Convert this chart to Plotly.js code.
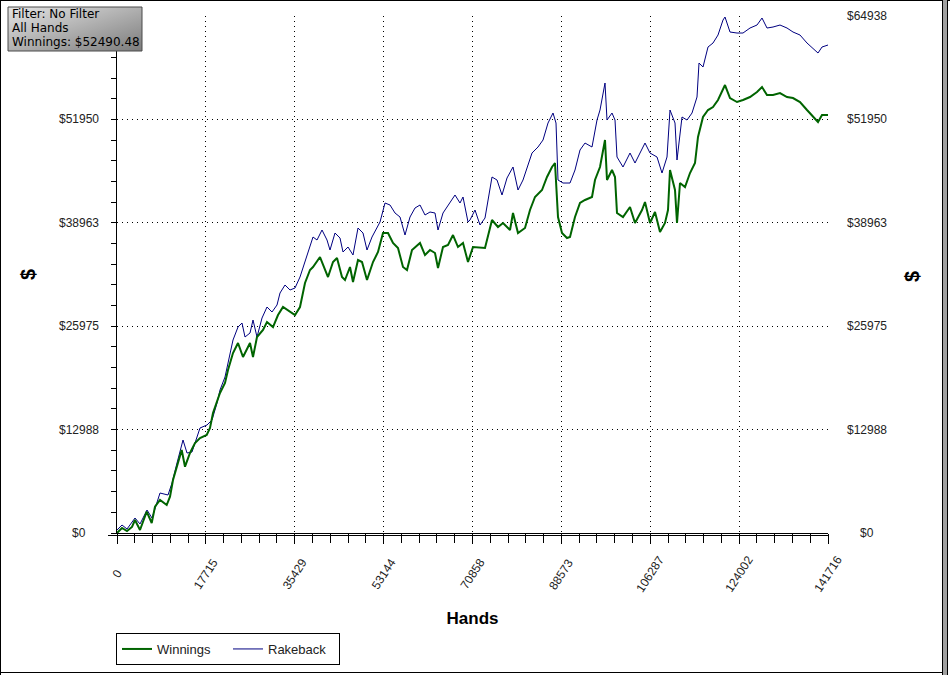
<!DOCTYPE html>
<html><head><meta charset="utf-8">
<script src="https://cdn.plot.ly/plotly-3.0.1.min.js"></script>
<style>
html,body{margin:0;padding:0;background:#fff;}
#wrap{position:relative;width:950px;height:675px;overflow:hidden;}
#chart{position:absolute;left:0;top:0;width:950px;height:675px;}
.fr{position:absolute;pointer-events:none;}
</style></head><body>
<div id="wrap"><div id="chart"></div>
<div class="fr" style="left:0;top:0;width:950px;height:1px;background:#000"></div>
<div class="fr" style="left:0;top:0;width:1px;height:675px;background:#000"></div>
<div class="fr" style="left:0;top:672px;width:943px;height:1px;background:#000"></div>
<div class="fr" style="left:942px;top:0;width:1px;height:675px;background:#000"></div>
<div class="fr" style="left:943px;top:0;width:4px;height:675px;background:#a0a0a0"></div>
<div class="fr" style="left:947px;top:0;width:1px;height:675px;background:#000"></div>
</div>
<script>
// ---- data ----
const handsWinnings = [0,997,1993,2990,3588,4584,5920,6916,7574,8571,9906,10564,11162,11899,12896,13554,14550,15547,16544,17879,18537,19135,20530,21527,22125,23121,24118,25114,26510,27108,27905,29101,29898,31094,32091,33087,34482,35479,36476,37472,38469,39067,40462,41060,42057,43053,43850,44847,45445,46442,47040,48036,48833,49830,50428,51026,52023,53019,54016,55012,56009,57006,57803,58799,60394,61391,62387,63384,63982,64978,65975,66972,67968,68965,69962,70958,73350,74745,75941,76938,78333,78931,79927,81323,82319,83316,84711,85708,86704,87302,87900,88697,89694,90292,91289,92285,93282,94677,95275,96272,97268,97667,98663,99261,99660,100856,102251,103248,104643,105241,106238,107234,108231,109227,109825,110224,111221,111619,112217,113214,114210,115207,115805,116801,117798,118795,119791,120788,121186,122183,123578,124774,126170,127565,128561,129558,130754,132149,133544,134740,136136,137531,138727,139724,140521,141716];
const winnings = [0,628,251,754,1633,377,2675,1256,3303,4145,3517,4559,6657,8327,10425,8327,10048,11304,11932,12309,13188,15072,17584,18840,20473,22608,23864,22106,23864,22106,24618,25497,26502,25874,27381,28386,27758,27381,28386,31400,33033,33410,34666,33661,32154,34038,34540,32154,31777,33410,31526,34289,34038,31777,33033,34038,35294,37680,37680,36424,35796,33410,33033,35545,36424,34917,35545,35168,33284,35922,36173,37429,35922,36424,34038,35922,35796,39313,38434,38936,38057,40192,37680,38308,40569,42202,43081,44714,45970,46472,39690,37680,37052,37178,39690,41448,41825,42202,44337,45970,49361,44337,45593,44714,40192,39690,40946,38936,40569,41574,38936,40318,37806,38936,40569,45593,43081,38936,43960,43458,45216,46472,49738,52250,53129,53506,54385,55892,56269,54636,54134,54385,54762,55390,56018,55013,55013,55264,54762,54636,54134,53129,52250,51622,52501,52490.48];

const handsRakeback = [0,997,1993,3588,4584,5980,6976,8571,10165,10963,11959,13155,13952,14949,15946,16544,17939,18935,19932,20530,21527,22125,23121,24118,24915,25513,26510,27108,27905,28901,29898,30895,31891,32489,33486,34482,35479,36476,37472,38070,39067,39864,40861,41857,42455,43452,44448,45046,46043,47040,48036,49033,49830,50827,51823,52421,53418,54414,55411,56408,57404,58401,59397,60394,61391,62387,63384,63982,64978,66374,67370,68367,68965,69962,70360,71357,72353,73350,74745,75742,76738,77735,78931,79927,80924,82718,83914,84910,85907,86904,87502,87900,88897,90292,91289,92285,93282,94677,95674,96272,97268,97667,98663,99261,99660,100856,102251,103248,104643,105241,106238,107633,108629,109626,110224,111221,111619,112616,113612,114609,115606,116004,116801,117798,118795,119791,120788,121186,122183,123578,124774,126170,127565,128561,129558,130754,132149,133544,134740,136136,137531,138727,139724,140521,141716];
const rakeback = [377,1005,502,1884,1130,2889,1884,5024,4773,6280,8792,11681,10048,10174,12058,13188,13565,14193,16328,17961,19594,21352,24241,25874,26376,24618,25120,26753,24618,27004,28386,27758,28637,30144,31149,30521,30772,32154,34038,35168,37178,36801,38057,36801,35545,37680,37052,35294,35922,34917,38308,37680,35545,37178,38308,39062,41448,41197,40192,39690,37429,39690,40820,41197,39941,40318,40192,38057,40192,41574,42453,41448,42202,39062,39313,40569,38685,39564,44714,44337,42453,44589,45970,43081,44337,47728,48482,49361,51496,52752,51496,44337,43960,43960,45593,48105,48984,48482,51873,53129,56520,51873,52752,51873,47226,45970,47728,46472,48105,48984,47728,47226,45216,47226,53129,51496,46849,52250,51873,52752,54762,59032,58530,61042,61544,62549,64433,64810,62926,62800,62800,63428,63805,64684,63428,63554,63805,63428,62926,62549,61544,60916,60288,61042,61293];

const xTickVals = [0,17715,35429,53144,70858,88573,106287,124002,141716];
const xTickText = ['0','17715','35429','53144','70858','88573','106287','124002','141716'];
const yTickVals = [0,12988,25975,38963,51950,64938];
const yTickText = ['$0','$12988','$25975','$38963','$51950','$64938'];
const infoLines = ['Filter: No Filter','All Hands','Winnings: $52490.48'];

// ---- chart ----
const XMAX = 141716, YMAX = 64938;
const PW = 711, PH = 517, L = 117, T = 16;
const px = x => (x - L) / PW;          // page px -> paper x
const py = y => (T + PH - y) / PH;     // page px -> paper y
const lblFont = {family:'Liberation Sans, Arial, sans-serif', size:12, color:'#222'};

const traces = [
  {x: handsRakeback, y: rakeback, name:'Rakeback', type:'scatter', mode:'lines',
   line:{color:'#000080', width:1}, legendrank:2, hoverinfo:'skip'},
  {x: handsWinnings, y: winnings, name:'Winnings', type:'scatter', mode:'lines',
   line:{color:'#006400', width:2}, legendrank:1, hoverinfo:'skip'}
];

const annotations = [];
yTickVals.forEach((v,i)=>{
  if(i < yTickVals.length-1){
    annotations.push({xref:'paper', yref:'y', x:px(79), y:v, text:yTickText[i], showarrow:false,
      xanchor:'center', yanchor:'middle', font:lblFont});
  }
  annotations.push({xref:'paper', yref:'y', x:px(867), y:v, text:yTickText[i], showarrow:false,
    xanchor:'center', yanchor:'middle', font:lblFont});
});
xTickVals.forEach((v,i)=>{
  annotations.push({xref:'x', yref:'paper', x:v, y:py(574), text:xTickText[i], showarrow:false,
    xanchor:'center', yanchor:'middle', textangle:-57, font:lblFont});
});
infoLines.forEach((t,i)=>{
  annotations.push({xref:'paper', yref:'paper', x:px(10), y:py(14 + 14*i), xanchor:'left', yanchor:'middle',
    align:'left', showarrow:false, text:t,
    font:{family:'DejaVu Sans, Verdana, sans-serif', size:12, color:'#000'}});
});
// right-hand axis title
annotations.push({xref:'paper', yref:'paper', x:px(912), y:py(276), text:'<b>$</b>', showarrow:false,
  textangle:-90, xanchor:'center', yanchor:'middle',
  font:{family:'Liberation Sans, Arial, sans-serif', size:20, color:'#000'}});

const grad = "data:image/svg+xml;utf8," + encodeURIComponent(
 "<svg xmlns='http://www.w3.org/2000/svg' width='134' height='44' preserveAspectRatio='none'>" +
 "<defs><linearGradient id='g' x1='0' y1='0' x2='1' y2='1'>" +
 "<stop offset='0' stop-color='#e4e4e4'/><stop offset='1' stop-color='#7c7c7c'/></linearGradient></defs>" +
 "<rect width='134' height='44' fill='url(#g)'/></svg>");

const axBase = {range:[0,XMAX], tickmode:'array', tickvals:xTickVals, showticklabels:false,
  tickcolor:'#000', zeroline:false, fixedrange:true, automargin:false};
const ayBase = {range:[0,YMAX], tickmode:'array', tickvals:yTickVals, showticklabels:false,
  tickcolor:'#000', zeroline:false, fixedrange:true, automargin:false};

const layout = {
  width:950, height:675,
  margin:{l:117, r:122, t:16, b:142, pad:0, autoexpand:false},
  paper_bgcolor:'#fff', plot_bgcolor:'#fff',
  font:{family:'Liberation Sans, Arial, sans-serif', size:12, color:'#222'},
  showlegend:true,
  legend:{orientation:'h', x:px(116), xanchor:'left', y:py(633), yanchor:'top',
    bordercolor:'#000', borderwidth:1, bgcolor:'#fff', entrywidth:66, entrywidthmode:'pixels',
    font:{family:'Liberation Sans, Arial, sans-serif', size:13, color:'#222'}},
  xaxis: Object.assign({}, axBase, {
    ticks:'outside', ticklen:10, showline:true, linecolor:'#000', linewidth:1,
    showgrid:true, gridcolor:'#000', gridwidth:1, griddash:'1px,4px',
    minor:{ticks:'outside', ticklen:9, tick0:0, dtick:XMAX/40, tickcolor:'#000', showgrid:false},
    title:{text:'<b>Hands</b>', standoff:69, font:{family:'Liberation Sans, Arial, sans-serif', size:17, color:'#000'}}
  }),
  xaxis2: Object.assign({}, axBase, {overlaying:'x', side:'top', anchor:'y',
    ticks:'inside', ticklen:5, showline:true, linecolor:'#000', showgrid:false,
    minor:{ticks:'inside', ticklen:5, tick0:0, dtick:XMAX/40, tickcolor:'#000', showgrid:false}}),
  xaxis3: Object.assign({}, axBase, {overlaying:'x', side:'bottom', anchor:'y',
    ticks:'inside', ticklen:5, showline:false, showgrid:false}),
  yaxis: Object.assign({}, ayBase, {
    ticks:'outside', ticklen:5, showline:true, linecolor:'#000', linewidth:1,
    showgrid:true, gridcolor:'#000', gridwidth:1, griddash:'1px,4px',
    minor:{ticks:'outside', ticklen:5, tick0:0, dtick:YMAX/25, tickcolor:'#000', showgrid:false},
    title:{text:'<b>$</b>', standoff:70, font:{family:'Liberation Sans, Arial, sans-serif', size:20, color:'#000'}}
  }),
  yaxis2: Object.assign({}, ayBase, {overlaying:'y', side:'right', anchor:'x',
    ticks:'outside', ticklen:5, showline:true, linecolor:'#000', showgrid:false,
    minor:{ticks:'outside', ticklen:5, tick0:0, dtick:YMAX/25, tickcolor:'#000', showgrid:false}}),
  yaxis3: Object.assign({}, ayBase, {overlaying:'y', side:'left', anchor:'x',
    ticks:'inside', ticklen:4, showline:false, showgrid:false,
    minor:{ticks:'inside', ticklen:4, tick0:0, dtick:YMAX/25, tickcolor:'#000', showgrid:false}}),
  yaxis4: Object.assign({}, ayBase, {overlaying:'y', side:'right', anchor:'x',
    ticks:'inside', ticklen:4, showline:false, showgrid:false,
    minor:{ticks:'inside', ticklen:4, tick0:0, dtick:YMAX/25, tickcolor:'#000', showgrid:false}}),
  shapes:[
    {type:'line', xref:'paper', yref:'paper', x0:px(108), x1:1, y0:py(535.5), y1:py(535.5),
     line:{color:'#000', width:1}},
    {type:'rect', xref:'paper', yref:'paper', x0:px(8), x1:px(142), y0:py(51), y1:py(7),
     line:{color:'#4a4a4a', width:1}, fillcolor:'rgba(0,0,0,0)', layer:'above'}
  ],
  images:[{source:grad, xref:'paper', yref:'paper', x:px(8), y:py(7), sizex:134/PW, sizey:44/PH,
    xanchor:'left', yanchor:'top', sizing:'stretch', layer:'above'}],
  annotations: annotations
};

Plotly.newPlot('chart', traces, layout, {staticPlot:true, displayModeBar:false});
</script>
</body></html>
